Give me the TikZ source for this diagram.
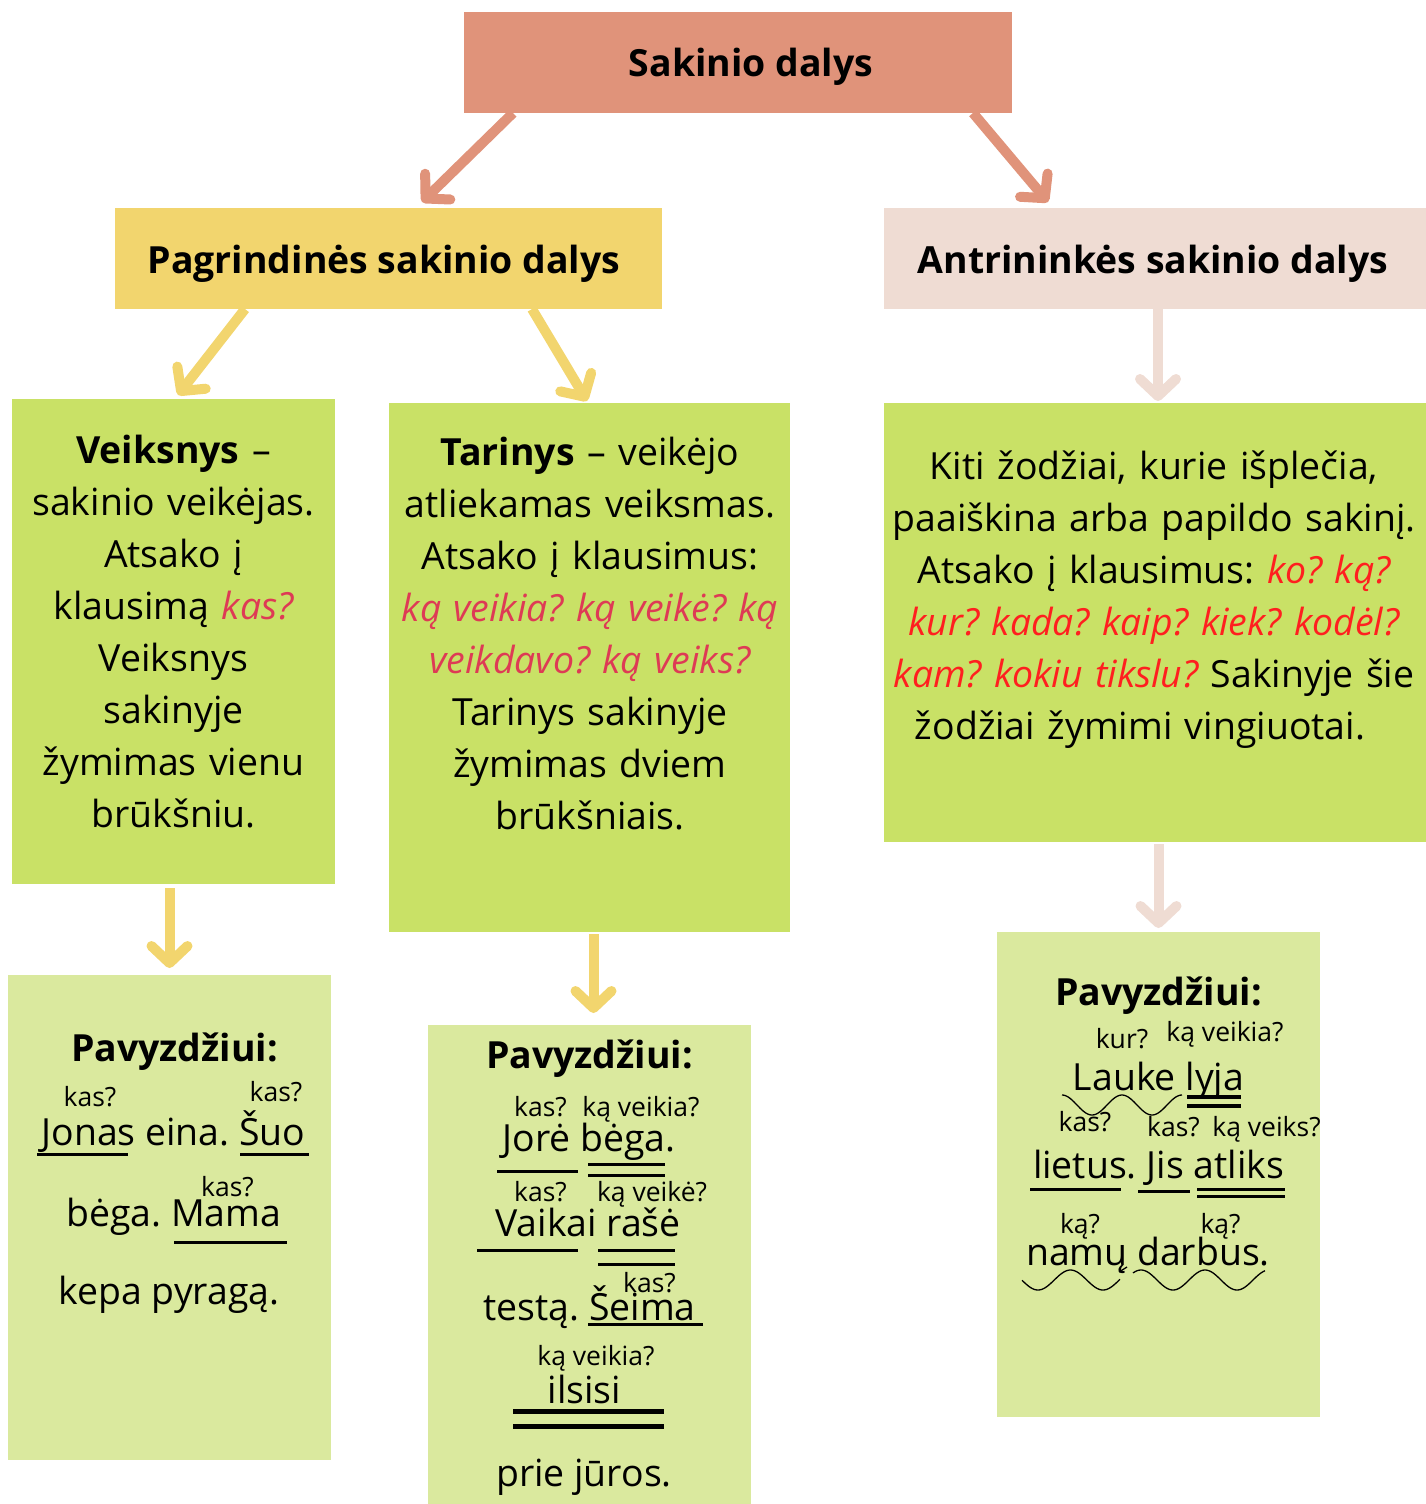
\documentclass[tikz,border=0pt]{standalone}
\usepackage{fontspec}
\setmainfont{Open Sans}
\usetikzlibrary{arrows.meta}
\frenchspacing
\definecolor{myorange}{HTML}{E0937A}
\definecolor{myyellow}{HTML}{F2D56E}
\definecolor{mypink}{HTML}{EFDCD3}
\definecolor{mygreen}{HTML}{C9E166}
\definecolor{mylight}{HTML}{DAE99E}
\definecolor{mycrimson}{HTML}{DE3A55}
\definecolor{myred}{HTML}{FF1F1F}

\begin{document}
\begin{tikzpicture}[x=1pt, y=1pt] % 1 px = 1 pt
\tikzstyle{mybox} = [inner sep=0pt, outer sep=0pt] % spalvotas laukas
\tikzstyle{mytext} = [font=\fontsize{37.4}{52}\selectfont, align=center, anchor=base, inner sep=0pt] % pagrindinis tekstas
\tikzstyle{myhead} = [mytext, font=\fontsize{37.4}{52}\selectfont\bfseries] % antraštė
\tikzstyle{myq} = [font=\fontsize{26.5}{30}\selectfont, anchor=base, inner sep=0pt] % klausimas virš žodžio
\tikzstyle{myarrow} = [line width=10pt, -{Straight Barb[round, length=17pt, width=36pt]}] % rodyklė
\tikzstyle{myline} = [line width=3pt] % pabraukimas
\tikzstyle{mywave} = [line width=1.3pt] % vingiuota linija

\useasboundingbox (0,0) rectangle (1426,-1504);

% laukai
\node[mybox, fill=myorange, minimum width=548, minimum height=101] (sakinio) at (738,-62.5) {};
\node[mybox, fill=myyellow, minimum width=547, minimum height=101] (pagr) at (388.5,-258.5) {};
\node[mybox, fill=mypink, minimum width=542, minimum height=101] (antr) at (1155,-258.5) {};
\node[mybox, fill=mygreen, minimum width=323, minimum height=485] (veik) at (173.5,-641.5) {};
\node[mybox, fill=mygreen, minimum width=401, minimum height=529] (tar) at (589.5,-667.5) {};
\node[mybox, fill=mygreen, minimum width=542, minimum height=439] (kiti) at (1155,-622.5) {};
\node[mybox, fill=mylight, minimum width=323, minimum height=485] (vpav) at (169.5,-1217.5) {};
\node[mybox, fill=mylight, minimum width=323, minimum height=479] (tpav) at (589.5,-1264.5) {};
\node[mybox, fill=mylight, minimum width=323, minimum height=485] (kpav) at (1158.5,-1174.5) {};

% rodyklės
\draw[myarrow, myorange] ([xshift=49]sakinio.south west) -- ([xshift=307, yshift=6]pagr.north west);
\draw[myarrow, myorange] ([xshift=-39]sakinio.south east) -- ([xshift=164, yshift=6]antr.north west);
\draw[myarrow, myyellow] ([xshift=130]pagr.south west) -- ([xshift=166, yshift=4]veik.north west);
\draw[myarrow, myyellow] ([xshift=417]pagr.south west) -- ([xshift=198, yshift=2]tar.north west);
\draw[myarrow, mypink] ([xshift=3]antr.south) -- ([xshift=3, yshift=2]kiti.north);
\draw[myarrow, myyellow, shorten <=4pt] (vpav.north |- veik.south) -- ([yshift=7]vpav.north);
\draw[myarrow, myyellow, shorten <=2pt] ([xshift=4]tar.south) -- ([xshift=4, yshift=12]tpav.north);
\draw[myarrow, mypink, shorten <=2pt] (kpav.north |- kiti.south) -- ([yshift=4]kpav.north);

% antraštės
\node[myhead] (t0) at (751,-77) {Sakinio dalys};
\node[myhead] (t1) at (384,-273) {Pagrindinės sakinio dalys};
\node[myhead] (t2) at (1153,-273) {Antrininkės sakinio dalys};

% aprašai
\node[mytext, text width=323] (veiktxt) at (173.5,-463) {\textbf{Veiksnys} –\\ sakinio veikėjas.\\ Atsako į\\ klausimą {\color{mycrimson}\itshape kas?}\\ Veiksnys\\ sakinyje\\ žymimas vienu\\ brūkšniu.};
\node[mytext, text width=401] (tartxt) at (590,-465.5) {\textbf{Tarinys} – veikėjo\\ atliekamas veiksmas.\\ Atsako į klausimus:\\ {\color{mycrimson}\itshape ką veikia? ką veikė? ką}\\ {\color{mycrimson}\itshape veikdavo? ką veiks?}\\ Tarinys sakinyje\\ žymimas dviem\\ brūkšniais.};
\node[mytext, text width=542] (kititxt) at (1154,-479) {Kiti žodžiai, kurie išplečia,\\ paaiškina arba papildo sakinį.\\ Atsako į klausimus: {\color{myred}\itshape ko? ką?}\\ {\color{myred}\itshape kur? kada? kaip? kiek? kodėl?}\\ {\color{myred}\itshape kam? kokiu tikslu?} Sakinyje šie\\ žodžiai žymimi vingiuotai.\rule{28pt}{0pt}};

% pavyzdžiai: veiksnys
\node[myhead] (vp) at (174.5,-1061.7) {Pavyzdžiui:};
\node[myq] (vq1) at (90,-1106.7) {kas?};
\node[myq] (vq2) at (276,-1101.7) {kas?};
\node[mytext] (vl1) at (173.5,-1145) {Jonas eina. Šuo};
\node[myq] (vq3) at (227.5,-1196) {kas?};
\node[mytext] (vl2) at (173.7,-1226.7) {bėga. Mama};
\node[mytext] (vl3) at (169,-1304) {kepa pyragą.};
\draw[myline] (37,-1154) -- (128,-1154);
\draw[myline] (240,-1154) -- (309,-1154);
\draw[myline] (174,-1242) -- (287,-1242);

% pavyzdžiai: tarinys
\node[myhead] (tp) at (589.5,-1068) {Pavyzdžiui:};
\node[myq] (tq1) at (540.5,-1116.7) {kas?};
\node[myq] (tq2) at (641,-1116.7) {ką veikia?};
\node[mytext] (tl1) at (589,-1151.7) {Jorė bėga.};
\draw[myline] (497,-1171.7) -- (578,-1171.7);
\draw[myline] (588,-1164) -- (665,-1164);
\draw[myline] (588,-1175.7) -- (665,-1175.7);
\node[myq] (tq3) at (540.5,-1201.7) {kas?};
\node[myq] (tq4) at (652,-1201.7) {ką veikė?};
\node[mytext] (tl2) at (588,-1236) {Vaikai rašė};
\draw[myline] (477,-1250) -- (578,-1250);
\draw[myline] (598,-1250) -- (675,-1250);
\draw[myline] (598,-1264) -- (675,-1264);
\node[myq] (tq5) at (649.5,-1292) {kas?};
\node[mytext] (tl3) at (589.5,-1320) {testą. Šeima};
\draw[myline] (588,-1324) -- (703,-1324);
\node[myq] (tq6) at (596,-1365) {ką veikia?};
\node[mytext] (tl4) at (584.5,-1403) {ilsisi};
\draw[myline, line width=5pt] (513,-1411.7) -- (664,-1411.7);
\draw[myline, line width=5pt] (513,-1426.7) -- (664,-1426.7);
\node[mytext] (tl5) at (584,-1486.7) {prie jūros.};

% pavyzdžiai: antrininkės dalys
\node[myhead] (kp) at (1158.5,-1005) {Pavyzdžiui:};
\node[myq] (kq1) at (1122,-1048) {kur?};
\node[myq] (kq2) at (1225,-1041.7) {ką veikia?};
\node[mytext] (kl1) at (1158.5,-1090) {Lauke lyja};
\draw[mywave] plot[domain=1062:1182, samples=80] (\x, {-1105+10*cos(6*(\x-1062))});
\draw[myline, line width=4pt] (1187,-1097) -- (1241,-1097);
\draw[myline, line width=4pt] (1187,-1106) -- (1241,-1106);
\node[myq] (kq3) at (1085,-1131.7) {kas?};
\node[myq] (kq4) at (1173.5,-1136.7) {kas?};
\node[myq] (kq5) at (1266.5,-1136.7) {ką veiks?};
\node[mytext] (kl2) at (1158.5,-1178.3) {lietus. Jis atliks};
\draw[myline] (1030,-1189.3) -- (1121,-1189.3);
\draw[myline] (1138,-1191) -- (1190,-1191);
\draw[myline] (1197,-1189.3) -- (1285,-1189.3);
\draw[myline] (1197,-1196.7) -- (1285,-1196.7);
\node[myq] (kq6) at (1080,-1233) {ką?};
\node[myq] (kq7) at (1220.5,-1233) {ką?};
\node[mytext] (kl3) at (1148,-1265) {namų darbus.};
\draw[mywave] plot[domain=1022:1120, samples=80] (\x, {-1280-10*cos(5.538*(\x-1038))});
\draw[mywave] (1119,-1272) -- (1127,-1267);
\draw[mywave] plot[domain=1133:1265, samples=100] (\x, {-1280-10*cos(5.625*(\x-1173))});
\end{tikzpicture}
\end{document}
